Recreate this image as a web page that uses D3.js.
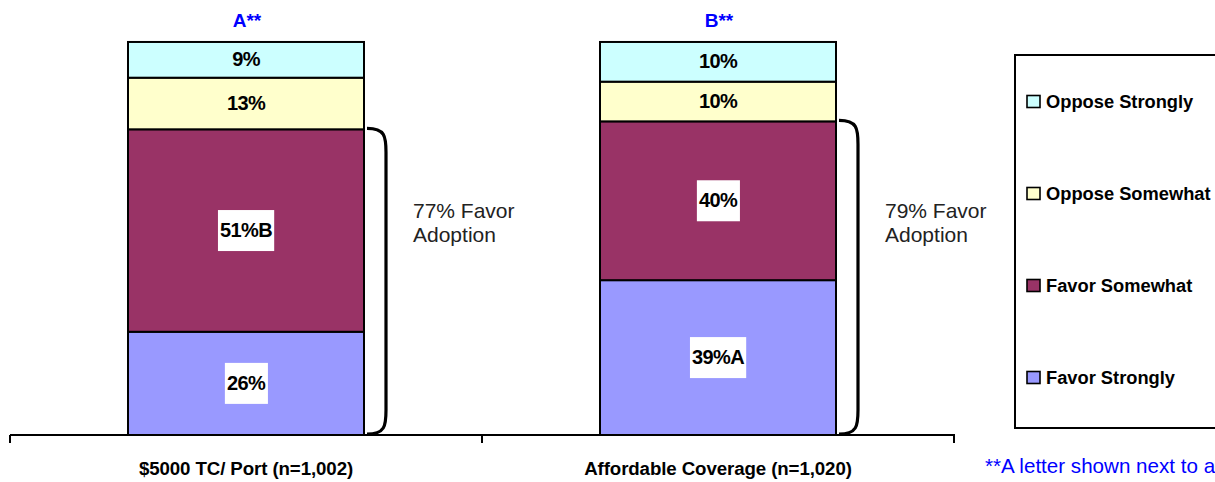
<!DOCTYPE html>
<html><head><meta charset="utf-8">
<script src="https://cdn.jsdelivr.net/npm/d3@7/dist/d3.min.js"></script>
<style>
html,body{margin:0;padding:0;background:#fff;overflow:hidden;}
svg{display:block;font-family:Arial,"Liberation Sans",sans-serif;}
</style></head>
<body>
<svg id="chart" width="1215" height="482"></svg>
<script>
const categories = ["$5000 TC/ Port (n=1,002)", "Affordable Coverage (n=1,020)"];
const titles = ["A**", "B**"];
const seriesNames = ["Favor Strongly", "Favor Somewhat", "Oppose Somewhat", "Oppose Strongly"];
const seriesColors = ["#9999FF", "#993366", "#FFFFCC", "#CCFFFF"];
const favorStrongly = [26, 39];
const favorSomewhat = [51, 40];
const opposeSomewhat = [13, 10];
const opposeStrongly = [9, 10];
const sigLetters = [["", "B", "", ""], ["A", "", "", ""]];
const favorTotals = [77, 79];
const favorText = ["% Favor", "Adoption"];
const footnote = "**A letter shown next to a percentage indicates a statistically significant difference";

const svg = d3.select("#chart");
const rows = categories.map((c, i) => ({
  cat: c, i,
  "Favor Strongly": favorStrongly[i],
  "Favor Somewhat": favorSomewhat[i],
  "Oppose Somewhat": opposeSomewhat[i],
  "Oppose Strongly": opposeStrongly[i]
}));
const stacked = d3.stack().keys(seriesNames)(rows);

const x = d3.scaleBand().domain(categories).range([10, 954]).paddingInner(0.5).paddingOuter(0.25);
const y = d3.scaleLinear().domain([0, 100]).range([435, 38]);
const color = d3.scaleOrdinal().domain(seriesNames).range(seriesColors);

// bars
const g = svg.append("g");
stacked.forEach((layer, si) => {
  layer.forEach((d, ci) => {
    g.append("rect")
      .attr("x", x(categories[ci]))
      .attr("y", y(d[1]))
      .attr("width", x.bandwidth())
      .attr("height", y(d[0]) - y(d[1]))
      .attr("fill", color(layer.key))
      .attr("stroke", "#000")
      .attr("stroke-width", 2);
  });
});

// labels
stacked.forEach((layer, si) => {
  layer.forEach((d, ci) => {
    const cx = x(categories[ci]) + x.bandwidth() / 2;
    const cy = (y(d[0]) + y(d[1])) / 2 - 0.5;
    const txt = (d[1] - d[0]) + "%" + sigLetters[ci][si];
    const lg = g.append("g");
    const t = lg.append("text")
      .attr("x", cx).attr("y", cy).attr("dy", "0.34em")
      .attr("text-anchor", "middle")
      .attr("font-size", 20).attr("font-weight", "bold")
      .attr("letter-spacing", -0.6)
      .attr("fill", "#000").text(txt);
    if (si < 2) {
      const bb = t.node().getBBox();
      lg.insert("rect", "text")
        .attr("x", bb.x - 2).attr("y", cy - 20)
        .attr("width", bb.width + 4).attr("height", 41)
        .attr("fill", "#fff");
    }
  });
});

// titles
categories.forEach((c, i) => {
  svg.append("text")
    .attr("x", x(c) + x.bandwidth() / 2 + 1).attr("y", 27)
    .attr("text-anchor", "middle")
    .attr("font-size", 19).attr("font-weight", "bold")
    .attr("fill", "#0000ff").text(titles[i]);
});

// braces + favor text
categories.forEach((c, i) => {
  const x0 = x(c) + x.bandwidth() + 3;
  const x1 = x0 + 19;
  const top = y(favorTotals[i]) - 1;
  const bot = y(0) - 1;
  svg.append("path")
    .attr("d", `M${x0},${top} C${x1 - 1},${top} ${x1},${top + 8} ${x1},${top + 24} L${x1},${bot - 24} C${x1},${bot - 8} ${x1 - 1},${bot} ${x0},${bot}`)
    .attr("fill", "none").attr("stroke", "#000").attr("stroke-width", 3.2);
  const tx = x(c) + x.bandwidth() + 49;
  const t = svg.append("text")
    .attr("x", tx).attr("y", 218)
    .attr("font-size", 21).attr("fill", "#222");
  t.append("tspan").attr("x", tx).text(favorTotals[i] + favorText[0]);
  t.append("tspan").attr("x", tx).attr("dy", 24).text(favorText[1]);
});

// axis
const ax = svg.append("g");
const r = x.range();
ax.append("line").attr("x1", r[0]).attr("x2", r[1] + 1).attr("y1", y(0)).attr("y2", y(0))
  .attr("stroke", "#000").attr("stroke-width", 2);
const tickXs = [r[0]].concat(categories.map(c => x(c) - x.step() * 0.25 + x.step()));
tickXs.forEach(tx => {
  ax.append("line").attr("x1", tx).attr("x2", tx).attr("y1", y(0)).attr("y2", y(0) + 8)
    .attr("stroke", "#000").attr("stroke-width", 2);
});
categories.forEach(c => {
  ax.append("text")
    .attr("x", x(c) + x.bandwidth() / 2).attr("y", 475)
    .attr("text-anchor", "middle")
    .attr("font-size", 18.7).attr("font-weight", "bold")
    .attr("letter-spacing", -0.1)
    .attr("fill", "#000").text(c);
});

// legend
const leg = svg.append("g");
leg.append("rect").attr("x", 1015).attr("y", 55).attr("width", 260).attr("height", 373)
  .attr("fill", "#fff").attr("stroke", "#000").attr("stroke-width", 2);
const legendOrder = seriesNames.slice().reverse();
legendOrder.forEach((s, i) => {
  const cy = 101.5 + i * 92;
  leg.append("rect").attr("x", 1027).attr("y", cy - 6).attr("width", 13).attr("height", 12)
    .attr("fill", color(s)).attr("stroke", "#000").attr("stroke-width", 1.6);
  leg.append("text").attr("x", 1046).attr("y", cy + 6.5)
    .attr("font-size", 18.3).attr("font-weight", "bold").attr("letter-spacing", 0)
    .attr("fill", "#000").text(s);
});

// footnote
svg.append("text").attr("x", 985).attr("y", 473)
  .attr("font-size", 20.6).attr("fill", "#0000ff").text(footnote);
</script>
</body></html>
